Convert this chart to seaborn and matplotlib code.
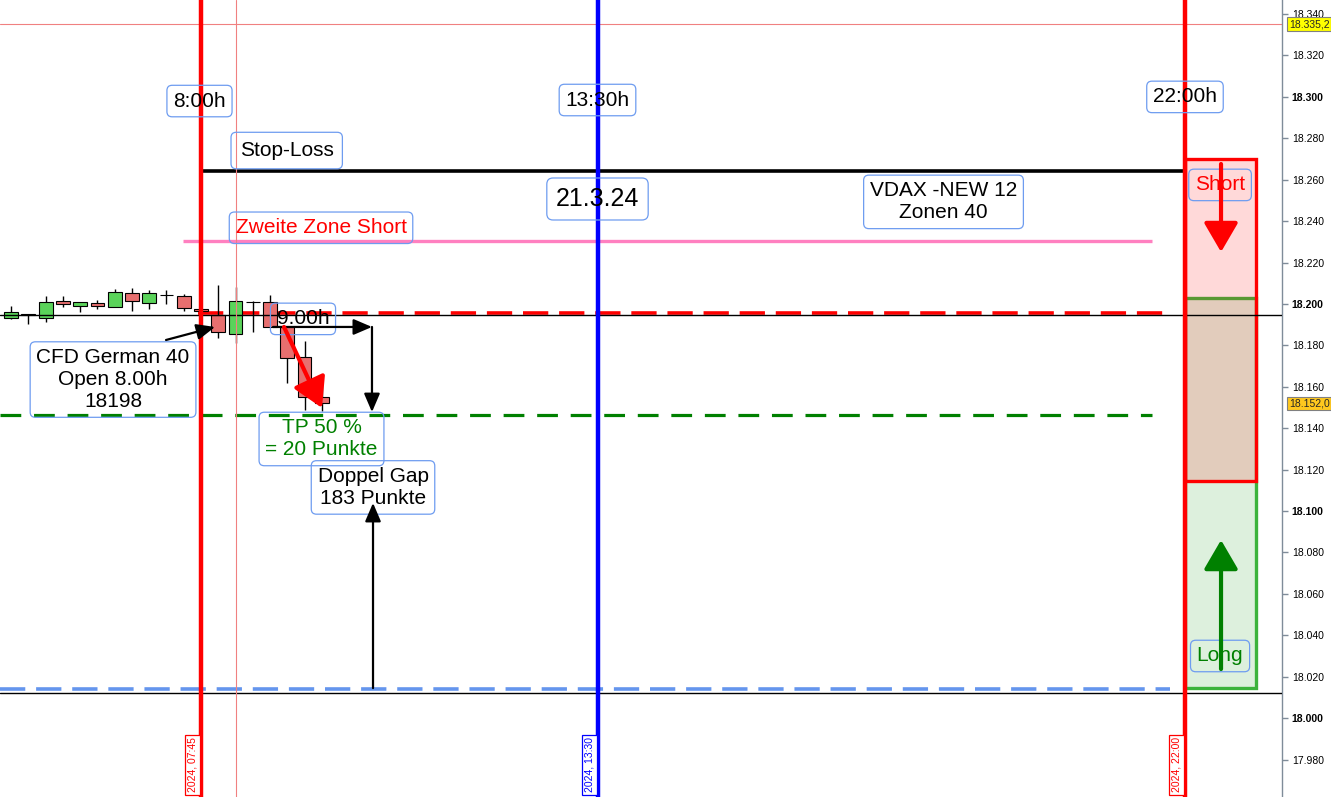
import numpy as np
import pandas as pd
import matplotlib.pyplot as plt
import matplotlib.patches as mpatches
from matplotlib.transforms import blended_transform_factory
import seaborn as sns

# 15 min candles, CFD German 40 on 21.3.24
bar_times = ["05:00", "05:15", "05:30", "05:45", "06:00", "06:15", "06:30", "06:45",
             "07:00", "07:15", "07:30", "07:45", "08:00", "08:15", "08:30", "08:45",
             "09:00", "09:15", "09:30"]
opens = [18193.4, 18195.3, 18193.4, 18201.3, 18199.2, 18200.5, 18198.4, 18205.2, 18200.6, 18204.5,
         18203.9, 18197.4, 18194.7, 18185.5, 18201.1, 18201.0, 18188.7, 18174.2, 18155.3]
highs = [18199.0, 18195.3, 18203.9, 18203.9, 18200.8, 18201.9, 18207.1, 18207.7, 18206.8, 18206.8,
         18204.7, 18197.6, 18209.2, 18208.2, 18201.6, 18204.3, 18188.7, 18182.1, 18166.2]
lows = [18192.6, 18190.2, 18191.4, 18198.7, 18196.3, 18197.4, 18198.4, 18196.8, 18197.7, 18200.0,
        18196.8, 18196.1, 18183.6, 18181.2, 18186.6, 18188.7, 18161.7, 18148.8, 18148.3]
closes = [18196.0, 18194.9, 18200.8, 18199.9, 18200.8, 18198.9, 18205.7, 18201.3, 18205.2, 18204.5,
          18197.9, 18196.4, 18186.5, 18201.6, 18201.1, 18188.7, 18173.8, 18155.3, 18152.0]

# levels
last_high = 18335.2
last_price = 18152.0
stop_loss = 18264.0
zone2_short = 18230.4
open_level = 18195.7
tp_level = 18146.4
gap_level = 18014.0
thin_lines = [18194.7, 18012.1]
short_zone = [18114.5, 18270.0]
long_zone = [18014.5, 18202.9]

# session markers (hours)
session_times = {"07:45": 7.75, "13:30": 13.5, "22:00": 22.0}
cursor_time = 8.25

y_ticks = list(range(17980, 18341, 20))


def to_hours(s):
    h, m = s.split(":")
    return int(h) + int(m) / 60


df = pd.DataFrame({"time": [to_hours(t) for t in bar_times], "open": opens,
                   "high": highs, "low": lows, "close": closes})

sns.set_theme(style="white")
plt.rcParams['font.family'] = ['Liberation Sans', 'DejaVu Sans']

fig = plt.figure(figsize=(13.31, 7.97), dpi=100)
ax = fig.add_axes([0, 0, 1282 / 1331, 1])
ax.set_xlim(4.839, 23.405)
ax.set_ylim(17961.9, 18346.8)

#zones on the right
ax.add_patch(mpatches.Rectangle((22.0, long_zone[0]), 1.03, long_zone[1] - long_zone[0],
                                facecolor='#ddf0dd', edgecolor='#3cb33c', lw=2.4, zorder=2))
ax.add_patch(mpatches.Rectangle((22.0, short_zone[0]), 1.03, short_zone[1] - short_zone[0],
                                facecolor=(1, 0, 0, 0.15), edgecolor='#ff0000', lw=2.4, zorder=2.1))

#horizontal lines
ax.axhline(last_high, color='#f08080', lw=0.8, zorder=1)
ax.hlines(stop_loss, 7.75, 22.0, color='black', lw=2.6, zorder=2)
ax.hlines(zone2_short, 7.489, 21.523, color='#ff80c0', lw=2.4, zorder=2)
ax.hlines(open_level, 7.70, 21.783, color='#ff0000', lw=2.6, linestyles=(0, (7, 3)), zorder=2)
ax.hlines(tp_level, 4.839, 21.523, color='#008000', lw=2.3, linestyles=(0, (6.5, 4)), zorder=2)
ax.hlines(gap_level, 4.839, 21.783, color='#6495ed', lw=2.6, linestyles=(0, (7, 3)), zorder=2)

#candles
ax.vlines(df["time"], df["low"], df["high"], color='black', lw=1, zorder=3)
body_colors = np.where(df["close"] >= df["open"], '#5ad35a', '#e76f6f')
ax.bar(df["time"], (df["close"] - df["open"]).abs(), bottom=df[["open", "close"]].min(axis=1),
       width=0.2, color=body_colors, edgecolor='black', lw=0.8, zorder=4)

for lvl in thin_lines:
    ax.axhline(lvl, color='black', lw=1, zorder=5)

#vertical session lines
ax.axvline(session_times["07:45"], color='#ff0000', lw=3.2, zorder=5)
ax.axvline(cursor_time, color='#f08080', lw=0.8, zorder=5)
ax.axvline(session_times["13:30"], color='#0000ff', lw=3.2, zorder=5)
ax.axvline(session_times["22:00"], color='#ff0000', lw=3.2, zorder=5)

#text boxes
box_ec = '#6e9cf0'


def label(x, y, s, color='black', size=15, pad=0.3):
    ax.text(x, y, s, ha='center', va='center', color=color, fontsize=size, zorder=7,
            bbox=dict(boxstyle=f'round,pad={pad},rounding_size=0.25', fc='none', ec=box_ec, lw=0.9))


label(7.728, 18298.0, "8:00h")
label(13.492, 18298.5, "13:30h")
label(22.0, 18300.0, "22:00h")
label(8.991, 18274.1, "Stop-Loss", pad=0.42)
label(9.488, 18236.8, "Zweite Zone Short", color='#ff0000')
label(13.492, 18250.7, "21.3.24", size=18, pad=0.36)
label(18.503, 18249.3, "VDAX -NEW 12\nZonen 40")
label(6.476, 18163.5, "CFD German 40\nOpen 8.00h\n18198")
label(9.227, 18192.8, "9.00h")
label(9.495, 18134.8, "TP 50 %\n= 20 Punkte", color='#008000')
label(10.241, 18111.4, "Doppel Gap\n183 Punkte")
label(22.508, 18257.5, "Short", color='#ff0000')
label(22.508, 18030.0, "Long", color='#008000')

#arrows
black_head = dict(arrowstyle='-|>,head_length=0.7,head_width=0.3', color='black', lw=1.6,
                  mutation_scale=16, shrinkA=0, shrinkB=0)
ax.annotate("", xy=(7.953, 18188.9), xytext=(7.243, 18182.6), arrowprops=black_head, zorder=8)
ax.annotate("", xy=(10.226, 18188.9), xytext=(8.793, 18188.9), arrowprops=black_head, zorder=8)
ax.annotate("", xy=(10.226, 18147.8), xytext=(10.226, 18188.9), arrowprops=black_head, zorder=8)
ax.annotate("", xy=(10.241, 18103.9), xytext=(10.241, 18014.5), arrowprops=black_head, zorder=8)

red_head = dict(arrowstyle='-|>,head_length=0.6,head_width=0.35', color='#ff0000', lw=3,
                mutation_scale=30, shrinkA=0, shrinkB=0)
ax.annotate("", xy=(9.502, 18149.8), xytext=(8.952, 18188.9), arrowprops=red_head, zorder=8)
ax.annotate("", xy=(22.522, 18225.1), xytext=(22.522, 18267.6), arrowprops=red_head, zorder=8)
green_head = dict(red_head, color='#008000')
ax.annotate("", xy=(22.522, 18086.0), xytext=(22.522, 18023.7), arrowprops=green_head, zorder=8)

#rotated time labels at the bottom
for key, col in [("07:45", '#ff0000'), ("13:30", '#0000ff'), ("22:00", '#ff0000')]:
    ax.text(session_times[key] - 0.12, 17990.8, "2024, " + key, rotation=90,
            ha='center', va='top', color=col, fontsize=7.5, zorder=7,
            bbox=dict(boxstyle='square,pad=0.25', fc='white', ec=col, lw=0.9))

#y axis on the right
ax.set_yticks(y_ticks)
ax.set_yticklabels([f"{v:,}".replace(",", ".") for v in y_ticks])
ax.set_xticks([])
ax.yaxis.tick_right()
ax.tick_params(axis='y', direction='out', length=4, width=1, color='#7f8c99', pad=3,
               labelsize=7.5, labelcolor='black', right=True, left=False)
for v, lbl in zip(y_ticks, ax.get_yticklabels()):
    if v % 100 == 0:
        lbl.set_fontweight('bold')
for side in ['left', 'top', 'bottom']:
    ax.spines[side].set_visible(False)
ax.spines['right'].set_color('#7f8c99')
ax.spines['right'].set_linewidth(1)

trans = blended_transform_factory(ax.transAxes, ax.transData)
ax.text(1.0055, last_high, "18.335,2", transform=trans, ha='left', va='center', fontsize=7.5,
        clip_on=False, zorder=9, bbox=dict(boxstyle='square,pad=0.15', fc='#ffff00', ec='#808080', lw=0.8))
ax.text(1.0055, last_price, "18.152,0", transform=trans, ha='left', va='center', fontsize=7.5,
        clip_on=False, zorder=9, bbox=dict(boxstyle='square,pad=0.15', fc='#ffc81e', ec='#808080', lw=0.8))

fig.savefig('out.png', dpi=100)
